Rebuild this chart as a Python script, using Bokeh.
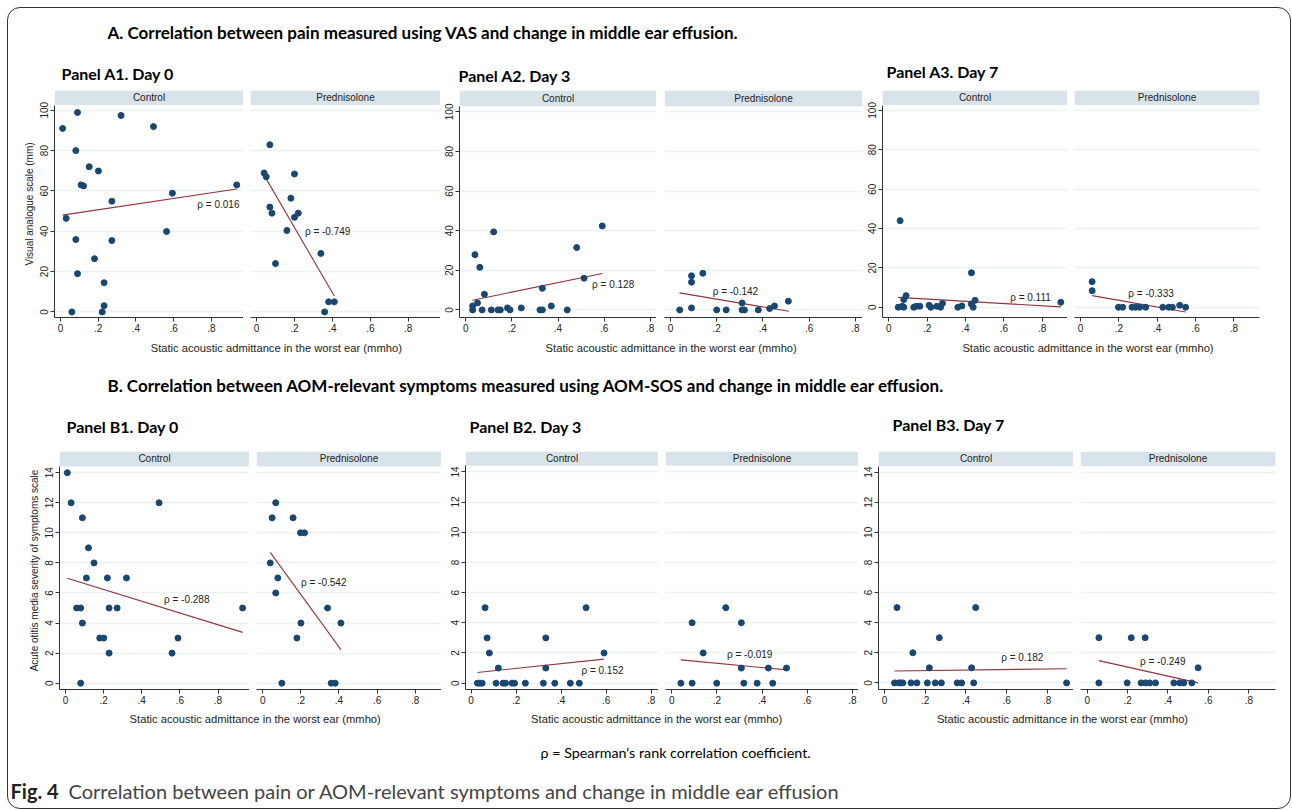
from bokeh.plotting import figure
from bokeh.layouts import row, column
from bokeh.models import Label, BoxAnnotation, FixedTicker, CustomJSTickFormatter, Grid
from bokeh.embed import file_html
from bokeh.resources import INLINE

# ---------------- data ----------------
groups = ["Control", "Prednisolone"]
x_ticks = [0, 0.2, 0.4, 0.6, 0.8]
vas_ticks = [0, 20, 40, 60, 80, 100]
sos_ticks = [0, 2, 4, 6, 8, 10, 12, 14]

# Panel A1 (VAS, day 0)
a1c_x = [0.011, 0.090, 0.321, 0.493, 0.081, 0.152, 0.201, 0.109, 0.122, 0.934, 0.593,
         0.272, 0.030, 0.562, 0.081, 0.272, 0.180, 0.090, 0.231, 0.231, 0.060, 0.221]
a1c_y = [91.0, 98.9, 97.4, 91.9, 80.0, 72.0, 69.9, 63.0, 62.5, 63.0, 58.9,
         54.9, 46.4, 39.9, 35.9, 35.4, 26.4, 19.0, 14.5, 3.1, 0.0, 0.0]
a1p_x = [0.070, 0.040, 0.051, 0.200, 0.181, 0.070, 0.081, 0.220, 0.200, 0.160, 0.339,
         0.100, 0.380, 0.410, 0.359]
a1p_y = [82.9, 68.9, 67.0, 68.4, 56.4, 52.0, 49.0, 49.0, 46.9, 40.4, 29.0,
         24.0, 5.0, 5.0, 0.0]
# Panel A2 (VAS, day 3)
a2c_x = [0.121, 0.040, 0.061, 0.481, 0.592, 0.513, 0.332, 0.081, 0.051, 0.030, 0.030,
         0.071, 0.111, 0.140, 0.150, 0.181, 0.192, 0.241, 0.322, 0.332, 0.371, 0.440]
a2c_y = [39.4, 27.9, 21.5, 31.5, 42.4, 16.0, 10.9, 7.9, 3.5, 2.0, 0.0,
         0.0, 0.0, 0.0, 0.0, 1.0, 0.0, 1.0, 0.0, 0.0, 2.0, 0.0]
a2p_x = [0.091, 0.091, 0.140, 0.040, 0.091, 0.200, 0.241, 0.310, 0.310, 0.320, 0.380,
         0.429, 0.450, 0.510]
a2p_y = [17.2, 14.0, 18.5, 0.0, 1.0, 0.0, 0.0, 3.5, 0.0, 0.0, 0.0, 0.7, 2.0, 4.4]
# Panel A3 (VAS, day 7)
a3c_x = [0.059, 0.431, 0.049, 0.070, 0.078, 0.090, 0.078, 0.130, 0.143, 0.162, 0.210,
         0.219, 0.250, 0.270, 0.280, 0.360, 0.381, 0.430, 0.440, 0.450, 0.897]
a3c_y = [44.0, 17.5, 0.0, 0.5, 3.9, 5.9, 0.0, 0.0, 0.5, 0.5, 1.0,
         0.0, 0.5, 0.0, 2.0, 0.0, 0.7, 1.7, 0.0, 3.5, 2.5]
a3p_x = [0.061, 0.061, 0.198, 0.220, 0.269, 0.288, 0.309, 0.340, 0.429, 0.460, 0.479,
         0.517, 0.548]
a3p_y = [13.0, 8.4, 0, 0, 0, 0, 0, 0, 0, 0, 0, 1.0, 0]
# Panel B1 (AOM-SOS, day 0)
b1c_x = [0.010, 0.030, 0.491, 0.089, 0.121, 0.150, 0.110, 0.220, 0.320, 0.059, 0.080,
         0.229, 0.271, 0.929, 0.089, 0.180, 0.201, 0.590, 0.229, 0.559, 0.080]
b1c_y = [14, 12, 12, 11, 9, 8, 7, 7, 7, 5, 5, 5, 5, 5, 4, 3, 3, 3, 2, 2, 0]
b1p_x = [0.068, 0.049, 0.159, 0.198, 0.219, 0.039, 0.079, 0.068, 0.340, 0.200, 0.410,
         0.179, 0.100, 0.359, 0.380]
b1p_y = [12, 11, 11, 10, 10, 8, 7, 6, 5, 4, 4, 3, 0, 0, 0]
# Panel B2 (AOM-SOS, day 3)
b2c_x = [0.062, 0.511, 0.071, 0.332, 0.081, 0.591, 0.121, 0.332, 0.028, 0.039, 0.049,
         0.111, 0.142, 0.153, 0.182, 0.193, 0.241, 0.321, 0.372, 0.441, 0.481]
b2c_y = [5, 5, 3, 3, 2, 2, 1, 1, 0, 0, 0, 0, 0, 0, 0, 0, 0, 0, 0, 0, 0]
b2p_x = [0.239, 0.090, 0.308, 0.139, 0.308, 0.428, 0.508, 0.040, 0.090, 0.199, 0.319,
         0.378, 0.447]
b2p_y = [5, 4, 4, 2, 1, 1, 1, 0, 0, 0, 0, 0, 0]
# Panel B3 (AOM-SOS, day 7)
b3c_x = [0.061, 0.448, 0.269, 0.139, 0.220, 0.428, 0.049, 0.070, 0.079, 0.090, 0.130,
         0.159, 0.210, 0.249, 0.279, 0.357, 0.379, 0.438, 0.895]
b3c_y = [5, 5, 3, 2, 1, 1, 0, 0, 0, 0, 0, 0, 0, 0, 0, 0, 0, 0, 0]
b3p_x = [0.058, 0.218, 0.287, 0.549, 0.058, 0.198, 0.267, 0.289, 0.310, 0.338, 0.429,
         0.458, 0.478, 0.518]
b3p_y = [3, 3, 3, 1, 0, 0, 0, 0, 0, 0, 0, 0, 0, 0]

# linear-fit lines (end points)
fit_a1c_x, fit_a1c_y = [0.010, 0.934], [48.0, 61.0]
fit_a1p_x, fit_a1p_y = [0.044, 0.410], [67.1, 7.9]
fit_a2c_x, fit_a2c_y = [0.029, 0.592], [4.9, 18.4]
fit_a2p_x, fit_a2p_y = [0.039, 0.512], [8.6, -0.7]
fit_a3c_x, fit_a3c_y = [0.049, 0.897], [5.0, 0.2]
fit_a3p_x, fit_a3p_y = [0.061, 0.548], [5.9, -2.4]
fit_b1c_x, fit_b1c_y = [0.010, 0.929], [6.98, 3.38]
fit_b1p_x, fit_b1p_y = [0.039, 0.410], [8.7, 2.23]
fit_b2c_x, fit_b2c_y = [0.028, 0.591], [0.71, 1.59]
fit_b2p_x, fit_b2p_y = [0.040, 0.508], [1.54, 0.88]
fit_b3c_x, fit_b3c_y = [0.049, 0.895], [0.79, 0.94]
fit_b3p_x, fit_b3p_y = [0.058, 0.549], [1.48, 0.0]

# Spearman's rho
rho_a1 = ["0.016", "-0.749"]
rho_a2 = ["0.128", "-0.142"]
rho_a3 = ["0.111", "-0.333"]
rho_b1 = ["-0.288", "-0.542"]
rho_b2 = ["0.152", "-0.019"]
rho_b3 = ["0.182", "-0.249"]

panel_titles = ["Panel A1. Day 0", "Panel A2. Day 3", "Panel A3. Day 7",
                "Panel B1. Day 0", "Panel B2. Day 3", "Panel B3. Day 7"]

# ---------------- styles ----------------
NAVY = "#1a476f"
MAROON = "#90353b"
STRIP = "#d9e4ea"
GRIDC = "#eaf2f3"
INK = "#222222"
SANS = "Liberation Sans"
CAL = "Lato"

xfmt = CustomJSTickFormatter(code="return tick == 0 ? '0' : tick.toFixed(1).replace(/^0/, '');")


def sub(w, h, ml, mr, mt, mb, xr, yr, sb, yt, xs, ys, fx, fy, rho, rxy, strip, show_y,
        ylabel=None):
    p = figure(width=w, height=h, x_range=xr, y_range=yr, output_backend="svg",
               toolbar_location=None, min_border_left=ml, min_border_right=mr,
               min_border_top=mt, min_border_bottom=mb,
               y_axis_location="left" if show_y else None)
    p.outline_line_color = None
    p.background_fill_color = "white"
    p.border_fill_color = "white"
    p.add_layout(BoxAnnotation(bottom=sb, fill_color=STRIP, fill_alpha=1.0,
                               line_color=None, level="underlay"))
    p.add_layout(Label(x=(xr[0] + xr[1]) / 2, y=(sb + yr[1]) / 2, text=strip,
                       text_align="center", text_baseline="middle",
                       text_font=SANS, text_font_size="10px", text_color=INK))
    ax = p.xaxis[0]
    ax.ticker = FixedTicker(ticks=x_ticks)
    ax.formatter = xfmt
    ax.major_label_text_font = SANS
    ax.major_label_text_font_size = "10px"
    ax.major_label_text_color = INK
    ax.major_label_standoff = 2
    ax.major_tick_out = 4
    ax.major_tick_in = 0
    ax.minor_tick_line_color = None
    ax.axis_line_color = "#333333"
    ax.major_tick_line_color = "#333333"
    p.xgrid.visible = False
    if show_y:
        ay = p.yaxis[0]
        ay.ticker = FixedTicker(ticks=yt)
        ay.bounds = (yr[0], sb)
        ay.major_label_orientation = "vertical"
        ay.major_label_text_font = SANS
        ay.major_label_text_font_size = "10px"
        ay.major_label_text_color = INK
        ay.major_label_standoff = 2
        ay.major_tick_out = 4
        ay.major_tick_in = 0
        ay.minor_tick_line_color = None
        ay.axis_line_color = "#333333"
        ay.major_tick_line_color = "#333333"
        if ylabel:
            ay.axis_label = ylabel
            ay.axis_label_text_font = SANS
            ay.axis_label_text_font_size = "10px"
            ay.axis_label_text_font_style = "normal"
            ay.axis_label_text_color = INK
            ay.axis_label_standoff = 3
        p.ygrid.ticker = FixedTicker(ticks=yt)
        p.ygrid.grid_line_color = GRIDC
        p.ygrid.grid_line_width = 1.5
    else:
        p.add_layout(Grid(dimension=1, ticker=FixedTicker(ticks=yt),
                          grid_line_color=GRIDC, grid_line_width=1.5))
    p.line(fx, fy, line_color=MAROON, line_width=1.1)
    p.scatter(xs, ys, size=6, fill_color=NAVY, line_color=NAVY)
    p.add_layout(Label(x=rxy[0], y=rxy[1], text="\u03c1 = " + rho, text_align="center",
                       text_baseline="middle", text_font=SANS, text_font_size="10px",
                       text_color=INK))
    return p


W = 1282
HA, HB = 255, 270

A1c = sub(235, HA, 46, 0, 4, 18, (-0.032, 0.97), (-2.75, 109.8), 102.6, vas_ticks,
          a1c_x, a1c_y, fit_a1c_x, fit_a1c_y, rho_a1[0], (0.837, 53.4), groups[0], True,
          "Visual analogue scale (mm)")
A1p = sub(197, HA, 7, 0, 4, 18, (-0.032, 0.97), (-2.75, 109.8), 102.6, vas_ticks,
          a1p_x, a1p_y, fit_a1p_x, fit_a1p_y, rho_a1[1], (0.375, 39.9), groups[1], False)
A2c = sub(216, HA, 19, 0, 5, 23, (-0.027, 0.827), (-3.84, 110.8), 102.9, vas_ticks,
          a2c_x, a2c_y, fit_a2c_x, fit_a2c_y, rho_a2[0], (0.639, 13.0), groups[0], True)
A2p = sub(206, HA, 8, 0, 5, 23, (-0.026, 0.831), (-3.84, 110.8), 102.9, vas_ticks,
          a2p_x, a2p_y, fit_a2p_x, fit_a2p_y, rho_a2[1], (0.281, 9.3), groups[1], False)
A3c = sub(205, HA, 20, 0, 4, 23, (-0.033, 0.932), (-5.2, 110.1), 102.7, vas_ticks,
          a3c_x, a3c_y, fit_a3c_x, fit_a3c_y, rho_a3[0], (0.739, 5.1), groups[0], True)
A3p = sub(223, HA, 7, 31, 4, 23, (-0.031, 0.933), (-5.2, 110.1), 102.7, vas_ticks,
          a3p_x, a3p_y, fit_a3p_x, fit_a3p_y, rho_a3[1], (0.368, 7.1), groups[1], False)

B1c = sub(241, HB, 51, 0, 11, 20, (-0.031, 0.965), (-0.42, 15.41), 14.42, sos_ticks,
          b1c_x, b1c_y, fit_b1c_x, fit_b1c_y, rho_b1[0], (0.636, 5.54), groups[0], True,
          "Acute otitis media severity of symptoms scale")
B1p = sub(192, HB, 7, 0, 11, 20, (-0.033, 0.938), (-0.42, 15.41), 14.42, sos_ticks,
          b1p_x, b1p_y, fit_b1p_x, fit_b1p_y, rho_b1[1], (0.32, 6.69), groups[1], False)
B2c = sub(217, HB, 24, 0, 11, 21, (-0.025, 0.833), (-0.42, 15.35), 14.4, sos_ticks,
          b2c_x, b2c_y, fit_b2c_x, fit_b2c_y, rho_b2[0], (0.584, 0.84), groups[0], True)
B2p = sub(200, HB, 7, 0, 11, 21, (-0.028, 0.827), (-0.42, 15.35), 14.4, sos_ticks,
          b2p_x, b2p_y, fit_b2p_x, fit_b2p_y, rho_b2[1], (0.345, 1.9), groups[1], False)
B3c = sub(215, HB, 20, 0, 9, 20, (-0.030, 0.929), (-0.44, 15.37), 14.39, sos_ticks,
          b3c_x, b3c_y, fit_b3c_x, fit_b3c_y, rho_b3[0], (0.677, 1.71), groups[0], True)
B3p = sub(217, HB, 7, 15, 9, 20, (-0.033, 0.932), (-0.44, 15.37), 14.39, sos_ticks,
          b3p_x, b3p_y, fit_b3p_x, fit_b3p_y, rho_b3[1], (0.374, 1.4), groups[1], False)


def canvas(h):
    c = figure(width=W, height=h, x_range=(0, 1), y_range=(0, 1), output_backend="svg",
               toolbar_location=None, x_axis_type=None, y_axis_type=None, min_border=0)
    c.outline_line_color = None
    c.grid.visible = False
    c.background_fill_color = None
    c.border_fill_color = None
    return c


def lab(c, x, y, text, font=SANS, size="11.2px", style="normal", align="left",
        color=INK):
    c.add_layout(Label(x=x, y=y, x_units="screen", y_units="screen", text=text,
                       text_font=font, text_font_size=size, text_font_style=style,
                       text_align=align, text_baseline="middle", text_color=color))


XTITLE = "Static acoustic admittance in the worst ear (mmho)"

head = canvas(77)
lab(head, 99, 53, "A. Correlation between pain measured using VAS and change in middle ear effusion.",
    font=CAL, size="17px", style="bold", color="black")
for (px, py), t in zip([(53, 12.3), (450, 10), (878, 14.3)], panel_titles[:3]):
    lab(head, px, py, t, font=CAL, size="16px", style="bold", color="black")

mid = canvas(100)
for cx in (267.8, 662.7, 1079.5):
    lab(mid, cx, 93, XTITLE, align="center")
lab(mid, 99, 55, "B. Correlation between AOM-relevant symptoms measured using AOM-SOS and change in middle ear effusion.",
    font=CAL, size="17px", style="bold", color="black")
for (px, py), t in zip([(58, 14), (461, 14), (884, 16)], panel_titles[3:]):
    lab(mid, px, py, t, font=CAL, size="16px", style="bold", color="black")

foot = canvas(98)
for cx in (246.7, 648.2, 1054.0):
    lab(foot, cx, 90, XTITLE, align="center")
lab(foot, 532, 56, "\u03c1 = Spearman's rank correlation coefficient.", font=CAL, size="14.3px",
    color="black")
lab(foot, 2, 18, "Fig. 4", font=CAL, size="20px", style="bold", color="#222222")
lab(foot, 60, 18, "Correlation between pain or AOM-relevant symptoms and change in middle ear effusion",
    font=CAL, size="20px", color="#444444")

layout = column(
    head,
    row(A1c, A1p, A2c, A2p, A3c, A3p, spacing=0),
    mid,
    row(B1c, B1p, B2c, B2p, B3c, B3p, spacing=0),
    foot,
    spacing=0,
    margin=(8, 0, 0, 8),
    styles={"outline": "1.5px solid #333333", "border-radius": "12px"},
)

open("out.html", "w").write(file_html(layout, INLINE))
